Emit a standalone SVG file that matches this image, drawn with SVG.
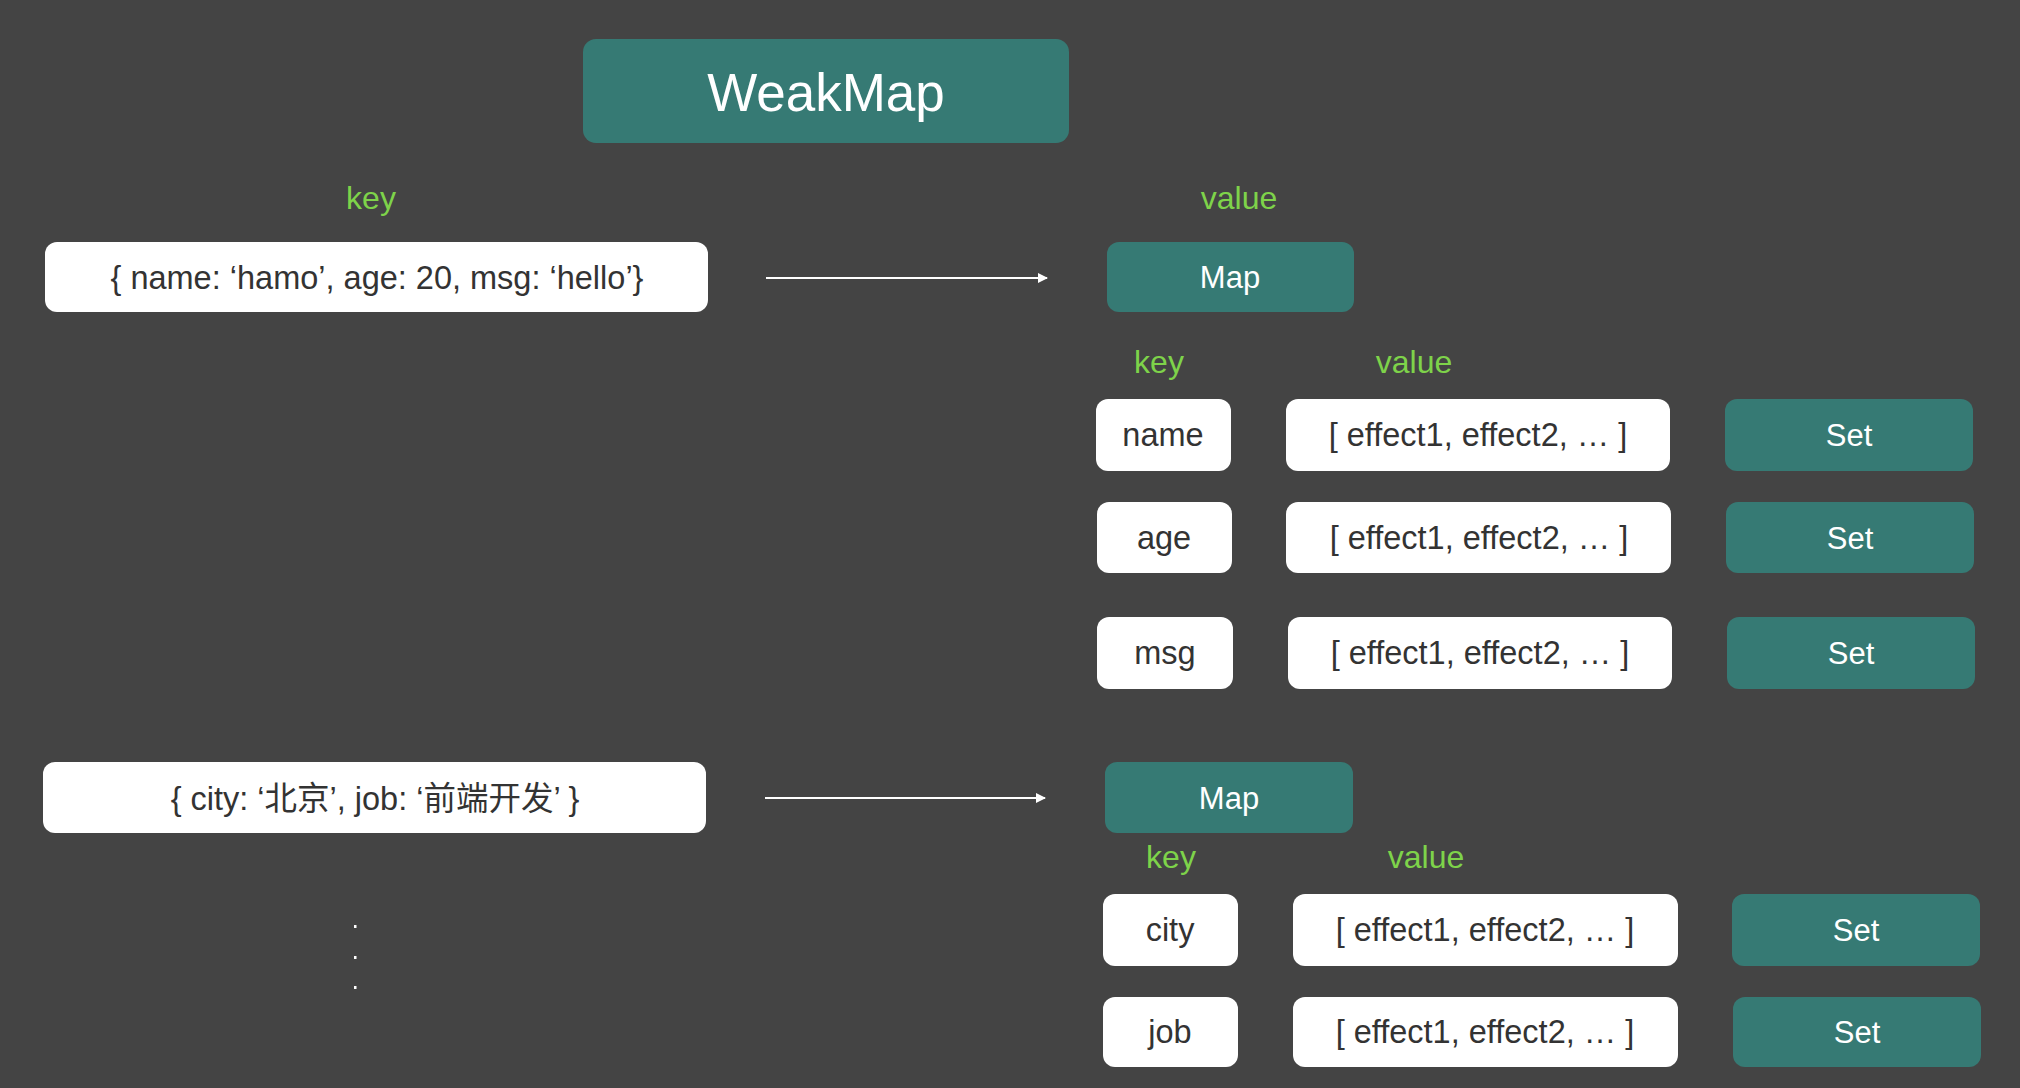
<svg xmlns="http://www.w3.org/2000/svg" width="2020" height="1088" viewBox="0 0 2020 1088">
<defs>
<style>
.bg{fill:#444444}
.teal{fill:#367a74}
.white{fill:#ffffff}
.t{font-family:"Liberation Sans","Noto Sans CJK SC",Arial,sans-serif;font-size:31px;text-anchor:middle}
.tw{fill:#ffffff}
.td{fill:#333333;font-size:32.5px}
.lbl{fill:#7ed34a;font-size:32px}
.big{font-size:53px}
.conn{stroke:#ffffff;stroke-width:2;fill:none}
</style>
<marker id="arr" viewBox="0 0 10 10" refX="9" refY="5" markerWidth="5" markerHeight="5" orient="auto" markerUnits="strokeWidth">
<path d="M0,0 L10,5 L0,10 z" fill="#ffffff"/>
</marker>
</defs>
<rect class="bg" x="0" y="0" width="2020" height="1088"/>

<g id="weakmap">
<rect class="teal" x="583" y="39" width="486" height="104" rx="13"/>
<text class="t tw big" x="826" y="111">WeakMap</text>
</g>

<g id="labels">
<text class="t lbl" x="371" y="209">key</text>
<text class="t lbl" x="1239" y="209">value</text>
<text class="t lbl" x="1159" y="373">key</text>
<text class="t lbl" x="1414" y="373">value</text>
<text class="t lbl" x="1171" y="868">key</text>
<text class="t lbl" x="1426" y="868">value</text>
</g>

<g id="obj1">
<rect class="white" x="45" y="242" width="663" height="70" rx="12"/>
<text class="t td" x="377" y="289">{ name: ‘hamo’, age: 20, msg: ‘hello’}</text>
</g>

<g id="obj2">
<rect class="white" x="43" y="762" width="663" height="71" rx="12"/>
<text class="t td" x="375" y="810">{ city: ‘北京’, job: ‘前端开发’ }</text>
</g>

<g id="dots">
<rect class="white" x="354" y="925" width="2.5" height="3"/>
<rect class="white" x="354" y="956" width="2.5" height="3"/>
<rect class="white" x="354" y="986" width="2.5" height="3"/>
</g>

<g id="map1">
<rect class="teal" x="1107" y="242" width="247" height="70" rx="12"/>
<text class="t tw" x="1230" y="288">Map</text>
</g>

<g id="key-name">
<rect class="white" x="1096" y="399" width="135" height="72" rx="12"/>
<text class="t td" x="1163" y="446">name</text>
</g>
<g id="val-name">
<rect class="white" x="1286" y="399" width="384" height="72" rx="12"/>
<text class="t td" x="1478" y="446">[ effect1, effect2, … ]</text>
</g>
<g id="set-name">
<rect class="teal" x="1725" y="399" width="248" height="72" rx="12"/>
<text class="t tw" x="1849" y="446">Set</text>
</g>

<g id="key-age">
<rect class="white" x="1097" y="502" width="135" height="71" rx="12"/>
<text class="t td" x="1164" y="549">age</text>
</g>
<g id="val-age">
<rect class="white" x="1286" y="502" width="385" height="71" rx="12"/>
<text class="t td" x="1479" y="549">[ effect1, effect2, … ]</text>
</g>
<g id="set-age">
<rect class="teal" x="1726" y="502" width="248" height="71" rx="12"/>
<text class="t tw" x="1850" y="549">Set</text>
</g>

<g id="key-msg">
<rect class="white" x="1097" y="617" width="136" height="72" rx="12"/>
<text class="t td" x="1165" y="664">msg</text>
</g>
<g id="val-msg">
<rect class="white" x="1288" y="617" width="384" height="72" rx="12"/>
<text class="t td" x="1480" y="664">[ effect1, effect2, … ]</text>
</g>
<g id="set-msg">
<rect class="teal" x="1727" y="617" width="248" height="72" rx="12"/>
<text class="t tw" x="1851" y="664">Set</text>
</g>

<g id="map2">
<rect class="teal" x="1105" y="762" width="248" height="71" rx="12"/>
<text class="t tw" x="1229" y="809">Map</text>
</g>

<g id="key-city">
<rect class="white" x="1103" y="894" width="135" height="72" rx="12"/>
<text class="t td" x="1170" y="941">city</text>
</g>
<g id="val-city">
<rect class="white" x="1293" y="894" width="385" height="72" rx="12"/>
<text class="t td" x="1485" y="941">[ effect1, effect2, … ]</text>
</g>
<g id="set-city">
<rect class="teal" x="1732" y="894" width="248" height="72" rx="12"/>
<text class="t tw" x="1856" y="941">Set</text>
</g>

<g id="key-job">
<rect class="white" x="1103" y="997" width="135" height="70" rx="12"/>
<text class="t td" x="1170" y="1043">job</text>
</g>
<g id="val-job">
<rect class="white" x="1293" y="997" width="385" height="70" rx="12"/>
<text class="t td" x="1485" y="1043">[ effect1, effect2, … ]</text>
</g>
<g id="set-job">
<rect class="teal" x="1733" y="997" width="248" height="70" rx="12"/>
<text class="t tw" x="1857" y="1043">Set</text>
</g>

<g id="connectors">
<line class="conn" x1="766" y1="278" x2="1047" y2="278" marker-end="url(#arr)"/>
<line class="conn" x1="765" y1="798" x2="1045" y2="798" marker-end="url(#arr)"/>
</g>
</svg>
